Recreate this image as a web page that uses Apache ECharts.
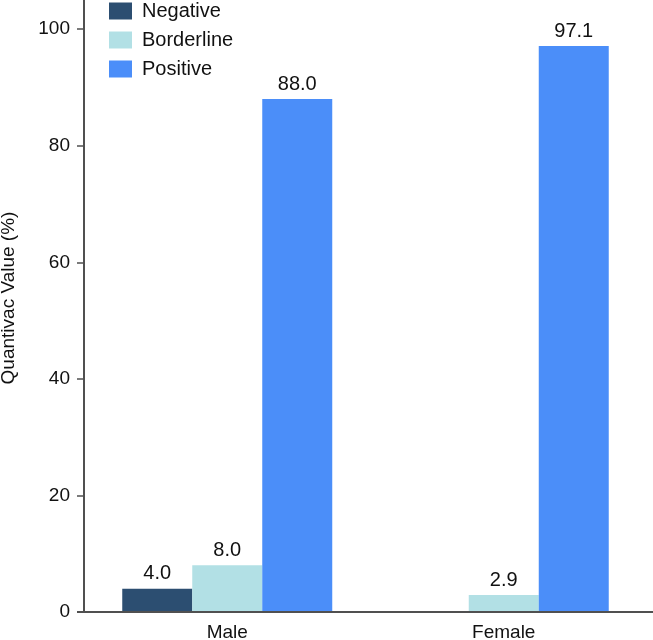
<!DOCTYPE html>
<html>
<head>
<meta charset="utf-8">
<script src="https://cdn.jsdelivr.net/npm/echarts@6/dist/echarts.min.js"></script>
<style>html,body{margin:0;padding:0;background:#fff}#c{width:653px;height:640px}</style>
</head>
<body>
<div id="c"></div>
<script>
const categories = ['Male', 'Female'];
const negative = [4.0, null];
const borderline = [8.0, 2.9];
const positive = [88.0, 97.1];
const seriesNames = ['Negative', 'Borderline', 'Positive'];
const yTicks = [0, 20, 40, 60, 80, 100];
const colors = ['#2c4e71', '#b2e0e5', '#4b8ef9'];

const chart = echarts.init(document.getElementById('c'), null, {renderer: 'canvas'});
const font = 'Liberation Sans, Arial, sans-serif';
const axisColor = '#505050';
const label = {show: true, position: 'top', distance: 5, color: '#111', fontSize: 20, fontFamily: font,
  formatter: p => p.value == null ? '' : Number(p.value).toFixed(1)};
const mk = (name, data, color) => ({
  name, type: 'bar', data, barWidth: 70, barGap: '0%',
  itemStyle: {color}, label
});
chart.setOption({
  animation: false,
  textStyle: {fontFamily: font},
  grid: {left: 89, right: 11, top: 0, bottom: 28, containLabel: false, outerBoundsMode: 'none'},
  legend: {
    orient: 'vertical', left: 109, top: 1, itemWidth: 23, itemHeight: 17, itemGap: 9,
    icon: 'rect', data: seriesNames, padding: 0,
    textStyle: {fontSize: 20, lineHeight: 20, color: '#111', fontFamily: font, padding: [0, 0, 0, 5]}
  },
  xAxis: {
    type: 'category', data: categories,
    axisLine: {show: false},
    axisTick: {show: false},
    axisLabel: {fontSize: 19, color: '#111', margin: 11, fontFamily: font}
  },
  yAxis: {
    type: 'value', min: 0, max: 105, interval: 20, offset: 5,
    name: 'Quantivac Value (%)', nameLocation: 'middle', nameGap: 66, nameRotate: 90,
    nameTextStyle: {fontSize: 19, color: '#111', fontFamily: font, padding: [0, 0, 0, 16]},
    axisLine: {show: true, lineStyle: {color: axisColor, width: 2}},
    axisTick: {show: true, length: 7, lineStyle: {color: axisColor, width: 1.5}, customValues: yTicks},
    axisLabel: {fontSize: 19, color: '#111', margin: 14, fontFamily: font, customValues: yTicks},
    splitLine: {show: false}
  },
  series: [mk(seriesNames[0], negative, colors[0]), mk(seriesNames[1], borderline, colors[1]), mk(seriesNames[2], positive, colors[2])]
});
// baseline line spanning the full width, like the reference
const y0 = chart.convertToPixel({yAxisIndex: 0}, 0);
chart.setOption({
  graphic: [{type: 'line', z: 10, shape: {x1: 77, y1: y0, x2: 653, y2: y0},
    style: {stroke: axisColor, lineWidth: 2}}]
});
</script>
</body>
</html>
